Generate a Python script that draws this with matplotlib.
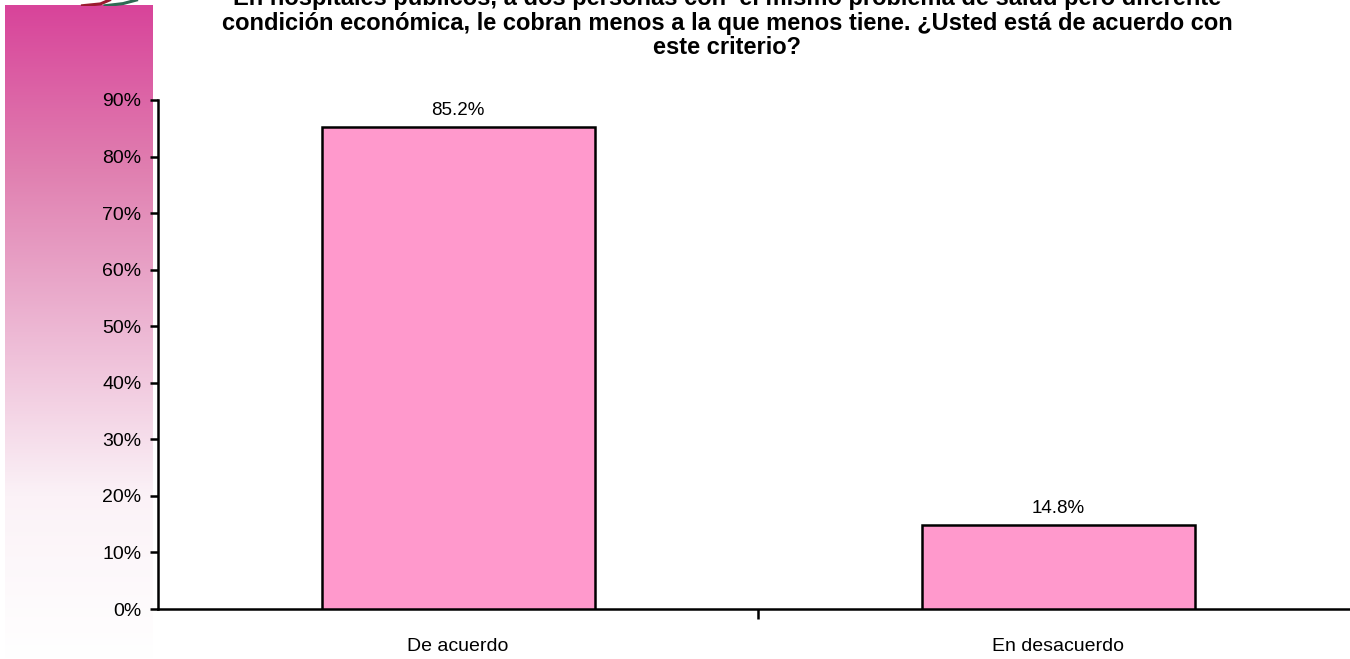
import numpy as np
import matplotlib
matplotlib.use("Agg")
import matplotlib.pyplot as plt
from matplotlib.colors import LinearSegmentedColormap

categories = ["De acuerdo", "En desacuerdo"]
values = [85.2, 14.8]
value_labels = ["85.2%", "14.8%"]
yticks = [0, 10, 20, 30, 40, 50, 60, 70, 80, 90]
ytick_labels = [f"{t}%" for t in yticks]
title_lines = ["En hospitales públicos, a dos personas con  el mismo problema de salud pero diferente",
               "condición económica, le cobran menos a la que menos tiene. ¿Usted está de acuerdo con",
               "este criterio?"]

plt.rcParams['font.family'] = ['Liberation Sans', 'DejaVu Sans']

fig = plt.figure(figsize=(13.5, 6.59), dpi=100)

# left gradient strip
bg = fig.add_axes([5/1350, 0, 148/1350, 1 - 5/659])
bg.set_axis_off()
cmap = LinearSegmentedColormap.from_list("pk", ["#D8449A", "#E07FB0", "#EDB8D4", "#FBF2F7", "#FFFFFF"])
grad = np.linspace(0, 1, 256).reshape(-1, 1)
bg.imshow(grad, aspect="auto", cmap=cmap, extent=[0, 1, 0, 1], origin="upper")
bg.set_xlim(0, 1); bg.set_ylim(0, 1)

# small decoration at top
deco = fig.add_axes([60/1350, 1 - 6/659, 90/1350, 6/659])
deco.set_axis_off()
deco.set_xlim(0, 1); deco.set_ylim(0, 1)
deco.plot([0.25, 0.45, 0.55], [0.05, 0.35, 1.0], color="#9B1B30", lw=2.2)
deco.plot([0.50, 0.70, 0.85], [0.05, 0.4, 1.0], color="#2F6B55", lw=2.2)

ax = fig.add_axes([158/1350, 1 - 609/659, 1200/1350, (609 - 100)/659])
x = np.arange(len(categories)) + 0.5
ax.bar(x, values, width=0.455, color="#FF99CC", edgecolor="black", linewidth=1.8, zorder=3)
ax.set_xlim(0, len(categories))
ax.set_ylim(0, 90)
ax.set_yticks(yticks)
ax.set_yticklabels(ytick_labels, fontsize=14)
ax.set_xticks([1])
ax.set_xticklabels([""])
for xi, c in zip(x, categories):
    ax.text(xi, -6.6, c, ha="center", va="center", fontsize=14)
ax.tick_params(axis="y", direction="out", length=6, width=1.8, pad=6)
ax.tick_params(axis="x", direction="out", length=7, width=1.8)
for s in ["top", "right"]:
    ax.spines[s].set_visible(False)
for s in ["left", "bottom"]:
    ax.spines[s].set_linewidth(1.8)
ax.set_facecolor("none")

for xi, v, lab in zip(x, values, value_labels):
    ax.text(xi, v + 1.5, lab, ha="center", va="bottom", fontsize=13.5)

for i, line in enumerate(title_lines):
    fig.text(727/1350, 1 - (-1 + 24.5 * i)/659, line, ha="center", va="center",
             fontsize=17, fontweight="bold")

fig.savefig("out.png", dpi=100)
